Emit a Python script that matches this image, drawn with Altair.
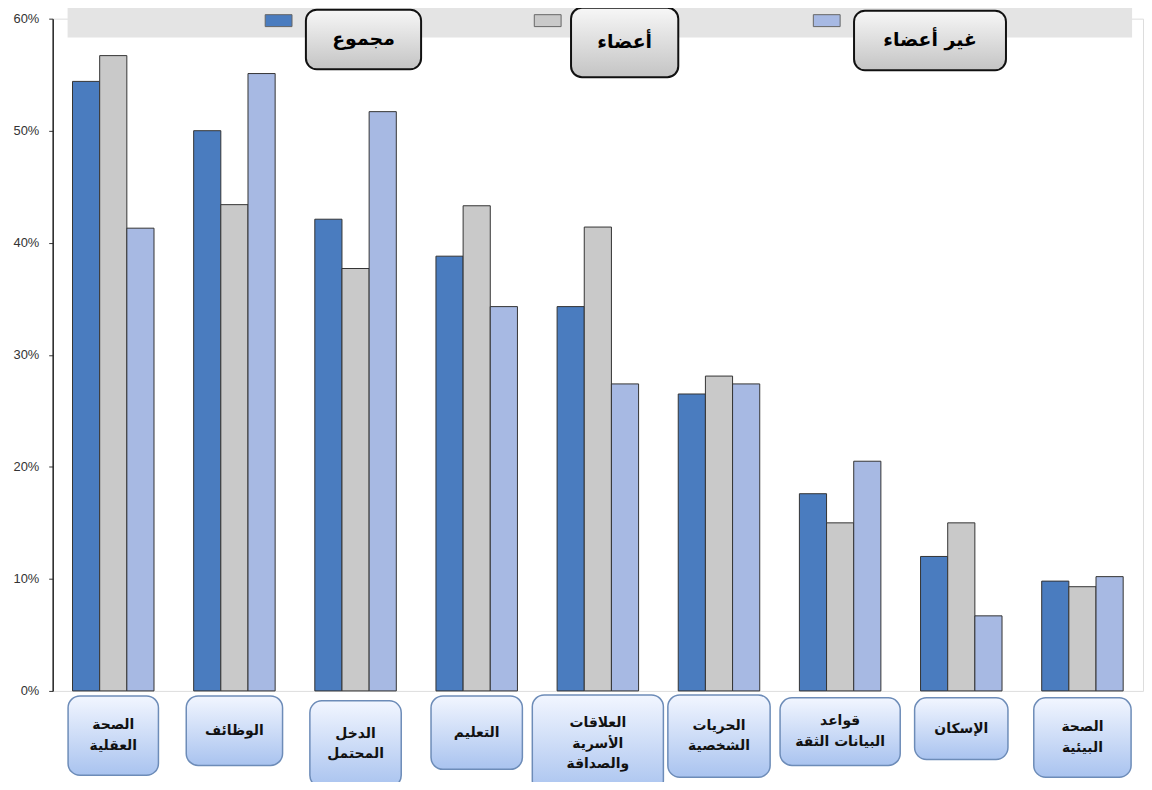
import altair as alt
import pandas as pd

# ---------------- data ----------------
categories = ["الصحة العقلية", "الوظائف", "الدخل المحتمل", "التعليم",
              "العلاقات الأسرية والصداقة", "الحريات الشخصية",
              "قواعد البيانات الثقة", "الإسكان", "الصحة البيئية"]
category_labels = ["الصحة\nالعقلية", "الوظائف", "الدخل\nالمحتمل", "التعليم",
                   "العلاقات\nالأسرية\nوالصداقة", "الحريات\nالشخصية",
                   "قواعد\nالبيانات الثقة", "الإسكان", "الصحة\nالبيئية"]
series = ["مجموع", "أعضاء", "غير أعضاء"]
total = [54.4, 50.0, 42.1, 38.8, 34.3, 26.5, 17.6, 12.0, 9.8]
members = [56.7, 43.4, 37.7, 43.3, 41.4, 28.1, 15.0, 15.0, 9.3]
non_members = [41.3, 55.1, 51.7, 34.3, 27.4, 27.4, 20.5, 6.7, 10.2]
y_ticks = [0, 10, 20, 30, 40, 50, 60]

# ---------------- styles ----------------
colors = ["#4a7cbf", "#c9c9c9", "#a7b9e3"]
W, H = 1098, 677
LH = 21
box_w = [91, 97, 92, 92, 132, 103, 121, 94, 98]
box_top = [682, 682, 687, 682, 681, 681, 684, 684, 684]
box_bot = [762, 752, 774, 756, 779, 764, 752, 746, 764]
legend_swatch_x = [214, 485, 766]
legend_box = [(255, 371, -9, 51), (522, 630, -11, 59), (807, 960, -8, 52)]

rows = []
for vals, s in zip([total, members, non_members], series):
    for c, v in zip(categories, vals):
        rows.append({"category": c, "series": s, "value": v})
df = pd.DataFrame(rows)

x_scale = alt.Scale(domain=categories, paddingInner=0, paddingOuter=0)

bars = alt.Chart(df).mark_bar(stroke="#333333", strokeWidth=1).encode(
    x=alt.X("category:N", sort=categories, scale=x_scale,
            axis=alt.Axis(labels=False, title=None, bandPosition=0, tickSize=4,
                          tickColor="#333", domainColor="#222", domainWidth=1.5)),
    xOffset=alt.XOffset("series:N", sort=series,
                        scale=alt.Scale(domain=series, paddingOuter=0.73, paddingInner=0)),
    y=alt.Y("value:Q", scale=alt.Scale(domain=[0, 60]),
            axis=alt.Axis(values=y_ticks, labelExpr="datum.value + '%'", grid=False,
                          title=None, tickSize=4, labelPadding=10, labelFontSize=13,
                          labelFont="Liberation Sans", labelColor="#333",
                          tickColor="#333", domainColor="#222", domainWidth=1.5)),
    color=alt.Color("series:N", sort=series,
                    scale=alt.Scale(domain=series, range=colors), legend=None),
)

n_lines = [lab.count("\n") + 1 for lab in category_labels]
box_df = pd.DataFrame({
    "category": categories, "label": category_labels,
    "w": box_w, "y1": box_top, "y2": box_bot,
    "ty": [(a + b) / 2 - (n - 1) * LH / 2 for a, b, n in zip(box_top, box_bot, n_lines)],
})

blue_grad = alt.Gradient(gradient="linear", x1=0, x2=0, y1=0, y2=1,
                         stops=[alt.GradientStop(color="#f2f6ff", offset=0),
                                alt.GradientStop(color="#a9c3ef", offset=1)])
gray_grad = alt.Gradient(gradient="linear", x1=0, x2=0, y1=0, y2=1,
                         stops=[alt.GradientStop(color="#f7f7f7", offset=0),
                                alt.GradientStop(color="#c4c4c4", offset=1)])

boxes = alt.Chart(box_df).mark_bar(cornerRadius=12, fill=blue_grad,
                                   stroke="#6d8cb8", strokeWidth=1.5).encode(
    x=alt.X("category:N", sort=categories, scale=x_scale, axis=None),
    size=alt.Size("w:Q", scale=None, legend=None),
    y=alt.Y("y1:Q", scale=None, axis=None),
    y2="y2:Q",
)
box_text = alt.Chart(box_df).mark_text(lineBreak="\n", font="DejaVu Sans",
                                       fontWeight="bold", fontSize=14,
                                       lineHeight=LH, color="#111",
                                       baseline="middle").encode(
    x=alt.X("category:N", sort=categories, scale=x_scale, axis=None),
    y=alt.Y("ty:Q", scale=None, axis=None),
    text="label:N",
)

one = pd.DataFrame({"a": [0]})
strip = alt.Chart(one).mark_rect(color="#e4e4e4").encode(
    x=alt.value(15), x2=alt.value(1087), y=alt.value(-16), y2=alt.value(19))

legend_layers = []
for s, col, sx, (bx1, bx2, by1, by2) in zip(series, colors, legend_swatch_x, legend_box):
    sw = alt.Chart(pd.DataFrame({"s": [s]})).mark_rect(fill=col, stroke="#666", strokeWidth=1).encode(
        x=alt.value(sx), x2=alt.value(sx + 27), y=alt.value(-4), y2=alt.value(8))
    bx = alt.Chart(pd.DataFrame({"s": [s]})).mark_rect(fill=gray_grad, stroke="#111", strokeWidth=2,
                                                      cornerRadius=11).encode(
        x=alt.value(bx1), x2=alt.value(bx2), y=alt.value(by1), y2=alt.value(by2))
    tx = alt.Chart(pd.DataFrame({"s": [s]})).mark_text(font="DejaVu Sans", fontWeight="bold",
                                                      fontSize=19, color="#000",
                                                      baseline="middle").encode(
        x=alt.value((bx1 + bx2) / 2), y=alt.value((by1 + by2) / 2), text="s:N")
    legend_layers += [sw, bx, tx]

chart = alt.layer(strip, bars, boxes, box_text, *legend_layers).resolve_scale(
    y="independent", size="independent", color="independent"
).properties(
    width=W, height=H,
    padding={"left": 45, "top": 8, "right": 1, "bottom": 89},
    autosize=alt.AutoSizeParams(type="none"),
).configure_view(stroke=None, fill="#f2fbfe").configure(background="white")

chart.save("out.html", embed_options={"renderer": "svg", "actions": False})
